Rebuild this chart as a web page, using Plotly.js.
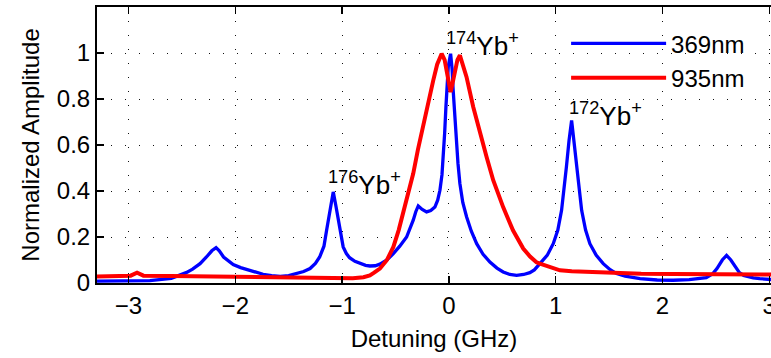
<!DOCTYPE html>
<html>
<head>
<meta charset="utf-8">
<script src="https://cdn.plot.ly/plotly-3.0.1.min.js"></script>
<style>html,body{margin:0;padding:0;background:#fff;}#chart{width:771px;height:358px;}</style>
</head>
<body>
<div id="chart"></div>
<script>
// 369nm trace (blue)
const x369 = [-3.30,-3.0,-2.8,-2.6,-2.46,-2.40,-2.33,-2.27,-2.22,-2.18,-2.15,-2.11,-2.06,-2.02,-1.95,-1.89,-1.82,-1.74,-1.66,-1.58,-1.50,-1.43,-1.36,-1.30,-1.25,-1.21,-1.17,-1.145,-1.11,-1.083,-1.06,-1.037,-1.01,-0.99,-0.96,-0.93,-0.88,-0.83,-0.78,-0.74,-0.69,-0.646,-0.58,-0.52,-0.46,-0.396,-0.36,-0.334,-0.31,-0.287,-0.25,-0.209,-0.17,-0.131,-0.105,-0.084,-0.065,-0.053,-0.04,-0.028,-0.015,-0.006,0.016,0.03,0.04,0.055,0.066,0.085,0.103,0.13,0.166,0.21,0.26,0.32,0.384,0.45,0.508,0.57,0.634,0.70,0.758,0.80,0.852,0.92,0.977,1.02,1.055,1.08,1.10,1.125,1.149,1.17,1.196,1.22,1.243,1.28,1.32,1.38,1.445,1.51,1.57,1.65,1.79,1.95,2.10,2.25,2.41,2.47,2.51,2.56,2.60,2.64,2.68,2.72,2.76,2.85,2.91,3.02];
const y369 = [0.008,0.008,0.010,0.020,0.045,0.060,0.084,0.113,0.140,0.154,0.140,0.113,0.095,0.080,0.067,0.058,0.047,0.038,0.032,0.029,0.032,0.041,0.050,0.063,0.085,0.113,0.160,0.229,0.320,0.396,0.340,0.273,0.200,0.157,0.128,0.110,0.094,0.084,0.077,0.074,0.075,0.082,0.100,0.128,0.160,0.200,0.240,0.273,0.310,0.335,0.320,0.309,0.315,0.330,0.360,0.403,0.470,0.548,0.650,0.765,0.860,0.940,0.997,0.930,0.838,0.720,0.620,0.520,0.432,0.350,0.287,0.225,0.171,0.125,0.091,0.065,0.048,0.037,0.033,0.037,0.045,0.057,0.084,0.120,0.171,0.230,0.316,0.410,0.504,0.620,0.707,0.620,0.504,0.400,0.316,0.230,0.171,0.120,0.084,0.058,0.041,0.030,0.019,0.013,0.012,0.015,0.023,0.040,0.063,0.100,0.120,0.100,0.070,0.045,0.033,0.022,0.019,0.015];

// 935nm trace (red)
const x935 = [-3.30,-3.1,-2.98,-2.92,-2.86,-2.6,-2.3,-2.0,-1.7,-1.4,-1.1,-0.9,-0.80,-0.74,-0.70,-0.646,-0.58,-0.52,-0.47,-0.43,-0.38,-0.334,-0.29,-0.24,-0.19,-0.147,-0.11,-0.068,-0.04,-0.02,0.016,0.035,0.056,0.08,0.103,0.13,0.165,0.228,0.29,0.353,0.415,0.508,0.60,0.665,0.696,0.76,0.82,0.852,0.95,1.04,1.15,1.29,1.45,1.57,1.8,2.1,2.4,2.7,3.02];
const y935 = [0.028,0.030,0.032,0.045,0.032,0.030,0.028,0.027,0.026,0.022,0.020,0.021,0.025,0.033,0.045,0.063,0.100,0.157,0.230,0.300,0.390,0.476,0.580,0.690,0.790,0.880,0.950,0.997,0.970,0.925,0.830,0.870,0.925,0.970,0.990,0.950,0.896,0.765,0.650,0.548,0.447,0.330,0.229,0.170,0.150,0.115,0.090,0.084,0.068,0.055,0.051,0.048,0.044,0.041,0.040,0.039,0.038,0.038,0.037];

const seriesNames = ['369nm', '935nm'];
const xTicks = [-3,-2,-1,0,1,2,3];
const xTickText = ['\u22123','\u22122','\u22121','0','1','2','3'];
const yTicks = [0,0.2,0.4,0.6,0.8,1];
const yTickText = ['0','0.2','0.4','0.6','0.8','1'];
const peakLabels = ['<sup>174</sup>Yb<sup>+</sup>','<sup>176</sup>Yb<sup>+</sup>','<sup>172</sup>Yb<sup>+</sup>'];
const peakLabelX = [-0.037,-1.145,1.117];
const peakLabelY = [0.999,0.396,0.696];

const FONT = 'Liberation Sans, Arial, Helvetica, sans-serif';

const traces = [
  {x:x369, y:y369, name:seriesNames[0], type:'scatter', mode:'lines',
   line:{color:'#0000ff', width:3.3}},
  {x:x935, y:y935, name:seriesNames[1], type:'scatter', mode:'lines',
   line:{color:'#ff0000', width:4}}
];

const annotations = peakLabels.map((t,i)=>({
  x:peakLabelX[i], y:peakLabelY[i], xref:'x', yref:'y', text:t,
  showarrow:false, xanchor:'left', yanchor:'bottom', yshift:-9,
  font:{family:FONT, size:26, color:'#000'}, borderpad:0
}));

const layout = {
  width:771, height:358,
  margin:{l:97, r:0, t:7, b:75},
  paper_bgcolor:'#fff', plot_bgcolor:'#fff',
  font:{family:FONT, size:24, color:'#000'},
  showlegend:true,
  legend:{x:0.696, y:0.948, xanchor:'left', yanchor:'top', bgcolor:'rgba(0,0,0,0)',
          borderwidth:0, itemwidth:95, font:{family:FONT, size:24, color:'#000'}, tracegroupgap:0},
  xaxis:{range:[-3.295,3.016], tickvals:xTicks, ticktext:xTickText,
         ticks:'inside', ticklen:7, tickwidth:1.5, tickcolor:'#000',
         showline:true, linecolor:'#000', linewidth:2, mirror:'ticks',
         showgrid:true, gridcolor:'#111', gridwidth:1, griddash:'1px,13px',
         zeroline:false, ticklabeloverflow:'allow',
         tickfont:{family:FONT, size:24, color:'#000'},
         title:{text:'Detuning (GHz)', font:{family:FONT, size:24, color:'#000'}, standoff:12}},
  yaxis:{range:[0,1.2], tickvals:yTicks, ticktext:yTickText,
         ticks:'inside', ticklen:7, tickwidth:1.5, tickcolor:'#000',
         showline:true, linecolor:'#000', linewidth:2, mirror:false,
         showgrid:true, gridcolor:'#111', gridwidth:1, griddash:'1px,13px',
         zeroline:false, tickfont:{family:FONT, size:24, color:'#000'},
         title:{text:'Normalized Amplitude', font:{family:FONT, size:24, color:'#000'}, standoff:10}},
  annotations:annotations
};

Plotly.newPlot('chart', traces, layout, {displayModeBar:false, staticPlot:true});
</script>
</body>
</html>
